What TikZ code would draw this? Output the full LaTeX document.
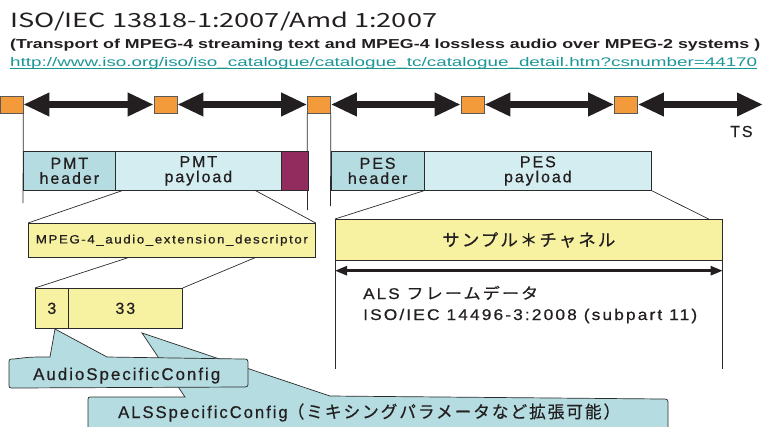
\documentclass[tikz,border=0pt]{standalone}
\usepackage{fontspec}
\usepackage{graphicx}
\setmainfont{Liberation Sans}
\newfontfamily\jpf{Noto Sans CJK JP}
\newfontfamily\lsf[LetterSpace=12,FakeBold=0.6]{Liberation Sans}
\newfontfamily\jplsf[LetterSpace=12,FakeBold=0.6]{Noto Sans CJK JP}
\usetikzlibrary{arrows.meta,calc}
\definecolor{orangeC}{HTML}{F39A3B}
\definecolor{maroonC}{HTML}{922B5E}
\definecolor{tealD}{HTML}{B4DCE1}
\definecolor{tealL}{HTML}{D3EDF1}
\definecolor{yellowC}{HTML}{F7F2A1}
\definecolor{lineC}{HTML}{2B2B2B}
\definecolor{textC}{HTML}{231F20}
\definecolor{urlC}{HTML}{1A9696}
\begin{document}
\begin{tikzpicture}[x=1pt,y=-1pt,
  sq/.style={draw=black!65, fill=orangeC, minimum width=23pt, minimum height=17pt, inner sep=0pt, line width=0.6pt},
  tsarrow/.style={line width=7pt, draw=textC, {Triangle[length=26pt,width=22pt]}-{Triangle[length=26pt,width=22pt]}},
  dblarrow/.style={line width=2.5pt, draw=textC, {Triangle[length=12pt,width=9pt]}-{Triangle[length=12pt,width=9pt]}},
  ln/.style={draw=lineC, line width=0.7pt},
  box/.style={draw=lineC, line width=0.7pt, inner sep=0pt, anchor=north west, align=center, text=textC,
              font=\fontsize{16}{15}\selectfont\lsf},
  callout/.style={draw=lineC, line width=0.7pt, fill=tealD},
  txt/.style={anchor=base west, inner sep=0pt, text=textC}
]
\useasboundingbox (0,0) rectangle (763,426);
\clip (0,0) rectangle (763,426);

% header texts
\node[txt] (title) at (10,27) {\resizebox{427pt}{\height}{\fontsize{19.5}{19.5}\selectfont\jpf ISO/IEC 13818-1:2007/Amd 1:2007}};
\node[txt] (sub) at (10,48.5) {\resizebox{750pt}{\height}{\fontsize{13}{13}\selectfont\bfseries (Transport of MPEG-4 streaming text and MPEG-4 lossless audio over MPEG-2 systems )}};
\node[txt, text=urlC] (url) at (10,66.5) {\resizebox{747pt}{\height}{\fontsize{12.5}{12.5}\selectfont http://www.iso.org/iso/iso\_catalogue/catalogue\_tc/catalogue\_detail.htm?csnumber=44170}};
\draw[urlC, line width=0.8pt] ($(url.base west)+(0,2)$) -- ($(url.base east)+(0,2)$);

% TS row
\node[sq] (s1) at (11.5,104.5) {};
\node[sq] (s2) at (165.5,104.5) {};
\node[sq] (s3) at (319,104.5) {};
\node[sq] (s4) at (472.5,104.5) {};
\node[sq] (s5) at (626,104.5) {};
\coordinate (tsend) at (763,104.5);
\draw[tsarrow] (s1) -- (s2);
\draw[tsarrow] (s2) -- (s3);
\draw[tsarrow] (s3) -- (s4);
\draw[tsarrow] (s4) -- (s5);
\draw[tsarrow] (s5) -- (tsend);
\node[txt] (ts) at (730,137) {\fontsize{16}{16}\selectfont\lsf TS};

% vertical lines from the squares
\coordinate (v1) at (23,203);
\coordinate (v3a) at (307.5,210);
\coordinate (v3b) at (330.5,206);
\draw[ln] (s1.south east) -- (v1);
\draw[ln] (s3.south west) -- (v3a);
\draw[ln] (s3.south east) -- (v3b);

% PMT / PES boxes
\node[box, fill=tealD, minimum width=92pt, minimum height=39pt] (pmth) at (23,151) {PMT\\header};
\node[box, fill=tealL, minimum width=166pt, minimum height=39pt] (pmtp) at (115,151) {PMT\\payload};
\node[box, fill=maroonC, minimum width=26.5pt, minimum height=39pt] (crc) at (281,151) {};
\node[box, fill=tealD, minimum width=93.5pt, minimum height=39pt] (pesh) at (330.5,151) {PES\\header};
\node[box, fill=tealL, minimum width=227pt, minimum height=39pt] (pesp) at (424,151) {PES\\payload};

% descriptor
\node[box, fill=yellowC, minimum width=287pt, minimum height=34pt] (desc) at (28,223)
  {\resizebox{272pt}{\height}{\fontsize{12}{12}\selectfont\lsf MPEG-4\_audio\_extension\_descriptor}};
\node[box, fill=yellowC, minimum width=33pt, minimum height=40pt] (b3) at (35,288) {3};
\node[box, fill=yellowC, minimum width=114pt, minimum height=40pt] (b33) at (68,288) {33};

\draw[ln] ($(pmtp.south west)+(7,0)$) -- (desc.north west);
\draw[ln] ($(pmtp.south east)+(-26,0)$) -- (desc.north east);
\draw[ln] ($(desc.south west)+(100,0)$) -- (b3.north west);
\draw[ln] ($(desc.south west)+(227,0)$) -- (b33.north east);

% PES side
\node[box, fill=yellowC, minimum width=387pt, minimum height=41pt] (yel) at (335,219)
  {\resizebox{173pt}{\height}{\fontsize{17}{17}\selectfont\jplsf サンプル＊チャネル}};
\draw[ln] (pesp.south west) -- (yel.north west);
\draw[ln] (pesp.south east) -- ($(yel.north east)+(-14,0)$);
\draw[dblarrow] ($(yel.south west)+(0,10)$) -- ($(yel.south east)+(0,10)$);
\draw[ln] (yel.south west) -- ++(0,108);
\draw[ln] (yel.south east) -- ++(0,108);
\node[txt] (als1) at (363,299) {\resizebox{175pt}{\height}{\fontsize{15.5}{15.5}\selectfont\lsf ALS {\jplsf フレームデータ}}};
\node[txt] (als2) at (363,320) {\resizebox{334pt}{\height}{\fontsize{15.5}{15.5}\selectfont\lsf ISO/IEC 14496-3:2008 (subpart 11)}};

% callouts
\path[callout] (92,397) -- (185,397) -- (142,333) -- (330,396) -- (662,399) .. controls (668,399) .. (668,405)
  -- (668,432) -- (88,432) -- (88,402) .. controls (88,397) .. (92,397) -- cycle;
\node[txt] (alscfg) at (118,418) {\resizebox{502pt}{\height}{\fontsize{17}{17}\selectfont\lsf ALSSpecificConfig{\jplsf（ミキシングパラメータなど拡張可能）}}};
\path[callout] (14,359) .. controls (30,357) .. (50,357) -- (55,329) -- (107,357) -- (242,359) .. controls (248,359) .. (248,365)
  -- (248,382) .. controls (248,387) .. (242,387) -- (14,388) .. controls (9,388) .. (9,383) -- (9,364) .. controls (9,359) .. (14,359) -- cycle;
\node[txt] (audcfg) at (33,380) {\resizebox{187pt}{\height}{\fontsize{17}{17}\selectfont\lsf AudioSpecificConfig}};
\end{tikzpicture}
\end{document}
